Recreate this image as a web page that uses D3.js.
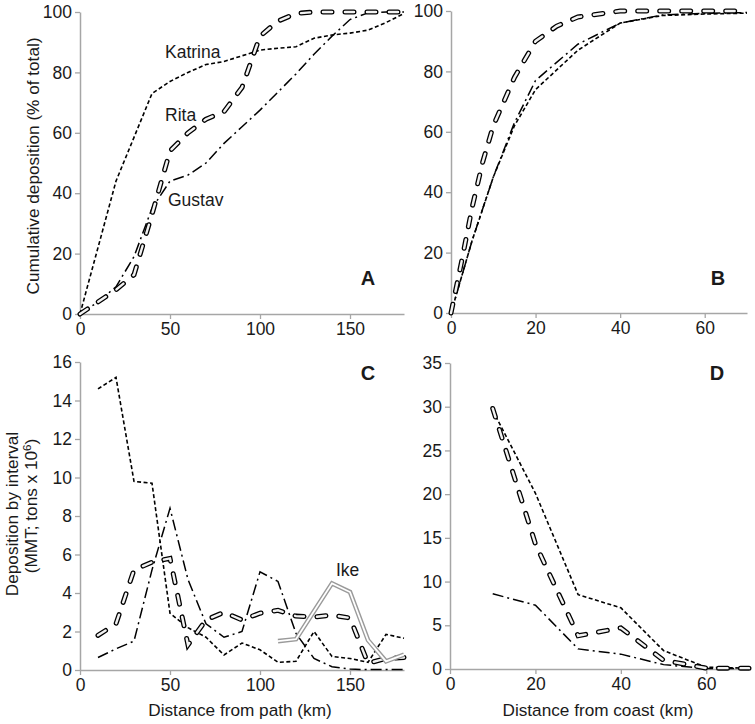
<!DOCTYPE html>
<html>
<head>
<meta charset="utf-8">
<script src="https://cdn.jsdelivr.net/npm/d3@7"></script>
<style>
  html, body { margin: 0; padding: 0; background: #fff; }
  svg { display: block; font-family: "Liberation Sans", Arial, sans-serif; }
</style>
</head>
<body>
<svg id="chart" width="755" height="724"></svg>
<script>
// ---------- DATA ----------
// Panel A: cumulative deposition (% of total) vs distance from path (km)
const distA = [0,10,20,30,40,50,60,70,80,90,100,110,120,130,140,150,160,170,180];
const katrinaA = [0,22,44,58.5,73,77,80,82.6,83.6,85.5,87.4,88,88.5,91.3,92.4,93,94,96.5,99.5];
const ritaA    = [0,4,8,13,33,54,60,64.5,67,75,92,97,99.5,100,100,100,100,100,100];
const gustavA  = [0,4,9,19,35,44,46,50,56.5,62,67.5,73.5,79.5,86,92,97.5,99.7,100,100];

// Panel B: cumulative deposition (% of total) vs distance from coast (km)
const distRitaB = [0,2.5,5,7.5,10,15,20,25,30,40,50,60,70];
const ritaB     = [0,17,35,50,62,78,90,95,98,100,100,100,100];
const distB     = [0,5,10,15,20,30,40,50,60,70];
const katrinaB  = [0,24,45,62,74,87,96,98.5,99,99.3];
const gustavB   = [0,24,45,63,77,89,96,98.7,99.2,99.5];

// Panel C: deposition by interval (MMT) vs distance from path (km)
const distC = [10,20,30,40,50,60,70,80,90,100,110,120,130,140,150,160,170,180];
const katrinaC = [14.6,15.2,9.8,9.7,2.95,2.2,1.7,0.78,1.4,1.05,0.4,0.45,2.0,0.7,0.6,0.4,1.85,1.65];
const ritaC    = [1.8,2.4,5.2,5.6,5.8,1.3,2.6,3.0,2.6,2.95,3.1,2.8,2.75,2.85,2.7,0.35,0.6,0.65];
const gustavC  = [0.65,1.1,1.5,5.2,8.4,4.7,2.4,1.7,2.0,5.1,4.6,1.9,0.6,0.17,0.05,0.02,0.02,0.02];
const distIkeC = [110,120,130,140,150,160,170,180];
const ikeC     = [1.5,1.6,3.05,4.5,4.05,1.55,0.45,0.8];

// Panel D: deposition by interval (MMT) vs distance from coast (km)
const distD = [10,20,30,40,50,60,70];
const katrinaD = [29.6,20.1,8.5,7.0,2.1,0.2,0.1];
const ritaD    = [29.8,14.3,3.8,4.7,1.0,0.1,0.1];
const gustavD  = [8.6,7.3,2.3,1.7,0.5,0.05,0.05];

// Tick values
const ticksXPath  = [0,50,100,150];
const ticksXCoast = [0,20,40,60];
const ticksYCum   = [0,20,40,60,80,100];
const ticksYC     = [0,2,4,6,8,10,12,14,16];
const ticksYD     = [0,5,10,15,20,25,30,35];

// ---------- DRAWING ----------
const svg = d3.select("#chart");
const AXIS = "#a6a6a6";
const TXT = "#1a1a1a";
const FS = 17.5;
const TFS = 17.2;

const panels = {
  A: { x: d3.scaleLinear().domain([0,180]).range([80,404]), y: d3.scaleLinear().domain([0,100]).range([314,12]), xt: ticksXPath, yt: ticksYCum },
  B: { x: d3.scaleLinear().domain([0,70]).range([451,747]), y: d3.scaleLinear().domain([0,100]).range([313,11]), xt: ticksXCoast, yt: ticksYCum },
  C: { x: d3.scaleLinear().domain([0,180]).range([80,404]), y: d3.scaleLinear().domain([0,16]).range([670,362]), xt: ticksXPath, yt: ticksYC },
  D: { x: d3.scaleLinear().domain([0,70]).range([450,749]), y: d3.scaleLinear().domain([0,35]).range([669,363]), xt: ticksXCoast, yt: ticksYD }
};

function drawAxes(p) {
  const y0 = p.y.range()[0];
  const x0 = p.x.range()[0];
  const gx = svg.append("g").attr("transform", `translate(0,${y0})`)
    .call(d3.axisBottom(p.x).tickValues(p.xt).tickSize(5).tickSizeOuter(0).tickPadding(4));
  const gy = svg.append("g").attr("transform", `translate(${x0},0)`)
    .call(d3.axisLeft(p.y).tickValues(p.yt).tickSize(5).tickSizeOuter(0).tickPadding(3));
  [gx, gy].forEach(g => {
    g.select(".domain").attr("stroke", AXIS).attr("stroke-width", 1.5);
    g.selectAll(".tick line").attr("stroke", AXIS).attr("stroke-width", 1.3);
    g.selectAll(".tick text").attr("fill", TXT).style("font-size", FS + "px")
      .style("font-family", '"Liberation Sans", Arial, sans-serif');
  });
}

function pts(xs, ys) { return xs.map((x, i) => [x, ys[i]]); }

function series(p, xs, ys, style) {
  const line = d3.line().x(d => p.x(d[0])).y(d => p.y(d[1]));
  const data = pts(xs, ys);
  const g = svg.append("g");
  if (style === "katrina") {
    g.append("path").attr("d", line(data)).attr("fill", "none")
      .attr("stroke", "#000").attr("stroke-width", 1.6).attr("stroke-dasharray", "4,2.5");
  } else if (style === "gustav") {
    g.append("path").attr("d", line(data)).attr("fill", "none")
      .attr("stroke", "#000").attr("stroke-width", 1.5).attr("stroke-dasharray", "11,4,2,4");
  } else if (style === "rita") {
    g.append("path").attr("d", line(data)).attr("fill", "none")
      .attr("stroke", "#000").attr("stroke-width", 5).attr("stroke-linecap", "round")
      .attr("stroke-dasharray", "9,13");
    g.append("path").attr("d", line(data)).attr("fill", "none")
      .attr("stroke", "#f2f2f2").attr("stroke-width", 2.4).attr("stroke-linecap", "round")
      .attr("stroke-dasharray", "9,13");
  } else if (style === "ike") {
    g.append("path").attr("d", line(data)).attr("fill", "none")
      .attr("stroke", "#9a9a9a").attr("stroke-width", 4.6);
    g.append("path").attr("d", line(data)).attr("fill", "none")
      .attr("stroke", "#fff").attr("stroke-width", 1.8);
  }
}

Object.values(panels).forEach(drawAxes);

// Panel A
series(panels.A, distA, gustavA, "gustav");
series(panels.A, distA, katrinaA, "katrina");
series(panels.A, distA, ritaA, "rita");
// Panel B
series(panels.B, distB, gustavB, "gustav");
series(panels.B, distB, katrinaB, "katrina");
series(panels.B, distRitaB, ritaB, "rita");
// Panel C
series(panels.C, distC, gustavC, "gustav");
series(panels.C, distC, katrinaC, "katrina");
series(panels.C, distC, ritaC, "rita");
series(panels.C, distIkeC, ikeC, "ike");
// Panel D
series(panels.D, distD, gustavD, "gustav");
series(panels.D, distD, katrinaD, "katrina");
series(panels.D, distD, ritaD, "rita");

// Series labels
const lbl = (x, y, t) => svg.append("text").attr("x", x).attr("y", y).attr("fill", TXT)
  .style("font-size", "17.5px").text(t);
lbl(165, 58, "Katrina");
lbl(165, 121, "Rita");
lbl(168, 206, "Gustav");
lbl(336, 576, "Ike");

// Panel letters
const letter = (x, y, t) => svg.append("text").attr("x", x).attr("y", y).attr("fill", TXT)
  .attr("text-anchor", "middle").style("font-size", "20px").style("font-weight", "bold").text(t);
letter(368, 285, "A");
letter(718, 285, "B");
letter(368, 380, "C");
letter(717, 380, "D");

// Axis titles
svg.append("text").attr("transform", "translate(39,166) rotate(-90)").attr("text-anchor", "middle")
  .attr("fill", TXT).style("font-size", TFS + "px").text("Cumulative deposition (% of total)");
svg.append("text").attr("transform", "translate(18,514) rotate(-90)").attr("text-anchor", "middle")
  .attr("fill", TXT).style("font-size", TFS + "px").text("Deposition by interval");
const t2 = svg.append("text").attr("transform", "translate(37,506) rotate(-90)").attr("text-anchor", "middle")
  .attr("fill", TXT).style("font-size", TFS + "px");
t2.append("tspan").text("(MMT; tons x 10");
t2.append("tspan").attr("dy", -6).style("font-size", "11.5px").text("6");
t2.append("tspan").attr("dy", 6).text(")");
svg.append("text").attr("x", 240).attr("y", 716).attr("text-anchor", "middle")
  .attr("fill", TXT).style("font-size", TFS + "px").text("Distance from path (km)");
svg.append("text").attr("x", 598).attr("y", 716).attr("text-anchor", "middle")
  .attr("fill", TXT).style("font-size", TFS + "px").text("Distance from coast (km)");
</script>
</body>
</html>
